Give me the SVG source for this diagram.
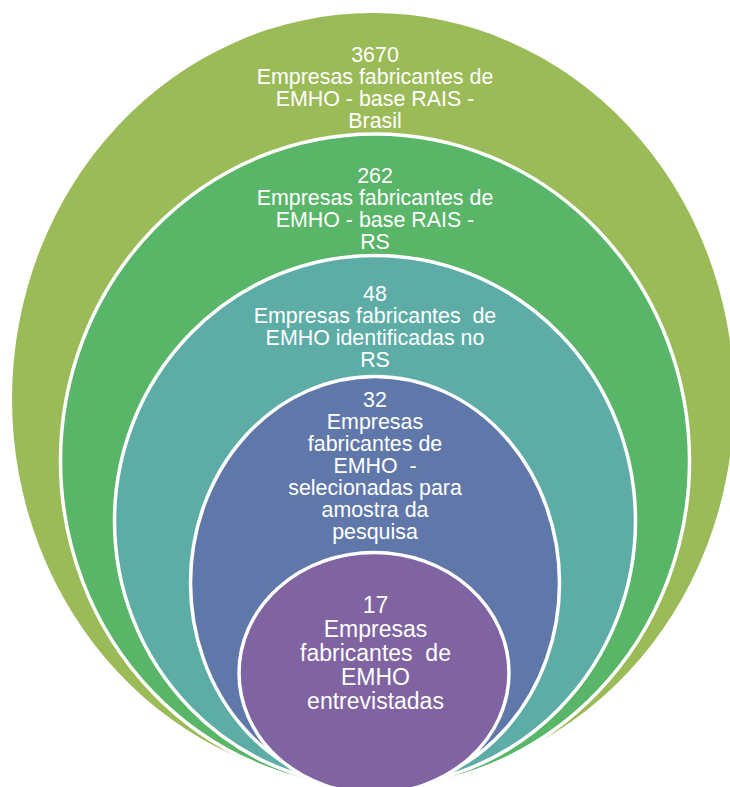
<svg xmlns="http://www.w3.org/2000/svg" width="730" height="787" viewBox="0 0 730 787">
<style>
.ring{stroke:#FFFFFF;stroke-width:3.5}
.t{font-family:"Liberation Sans",Arial,sans-serif;font-size:21.4px;fill:#FFFFFF;text-anchor:middle}
.tp{font-size:23px}
</style>
<rect x="0" y="0" width="730" height="787" fill="#FFFFFF"/>
<g id="node-brasil">
<ellipse cx="373" cy="399" rx="361" ry="386" fill="#9BBB59"/>
<text class="t" x="375" y="62">3670</text>
<text class="t" x="375" y="84">Empresas fabricantes de</text>
<text class="t" x="375" y="106">EMHO - base RAIS -</text>
<text class="t" x="375" y="128">Brasil</text>
</g>
<g id="node-rs">
<ellipse class="ring" cx="375" cy="461" rx="314.5" ry="327" fill="#59B567"/>
<text class="t" x="375" y="183">262</text>
<text class="t" x="375" y="205">Empresas fabricantes de</text>
<text class="t" x="375" y="227">EMHO - base RAIS -</text>
<text class="t" x="375" y="249">RS</text>
</g>
<g id="node-identificadas">
<ellipse class="ring" cx="375" cy="521" rx="260.5" ry="265.5" fill="#5DADA6"/>
<text class="t" x="375" y="301">48</text>
<text class="t" x="375" y="323">Empresas fabricantes&#160; de</text>
<text class="t" x="375" y="345">EMHO identificadas no</text>
<text class="t" x="375" y="367">RS</text>
</g>
<g id="node-selecionadas">
<ellipse class="ring" cx="375" cy="583" rx="184.5" ry="206.5" fill="#6078A9"/>
<text class="t" x="375" y="407">32</text>
<text class="t" x="375" y="429">Empresas</text>
<text class="t" x="375" y="451">fabricantes de</text>
<text class="t" x="375" y="473">EMHO&#160; -</text>
<text class="t" x="375" y="495">selecionadas para</text>
<text class="t" x="375" y="517">amostra da</text>
<text class="t" x="375" y="539">pesquisa</text>
</g>
<g id="node-entrevistadas">
<ellipse class="ring" cx="374" cy="673" rx="135" ry="120.5" fill="#8063A1"/>
<text class="t tp" x="375.5" y="613">17</text>
<text class="t tp" x="375.5" y="637">Empresas</text>
<text class="t tp" x="375.5" y="661">fabricantes&#160; de</text>
<text class="t tp" x="375.5" y="685">EMHO</text>
<text class="t tp" x="375.5" y="709">entrevistadas</text>
</g>
</svg>
